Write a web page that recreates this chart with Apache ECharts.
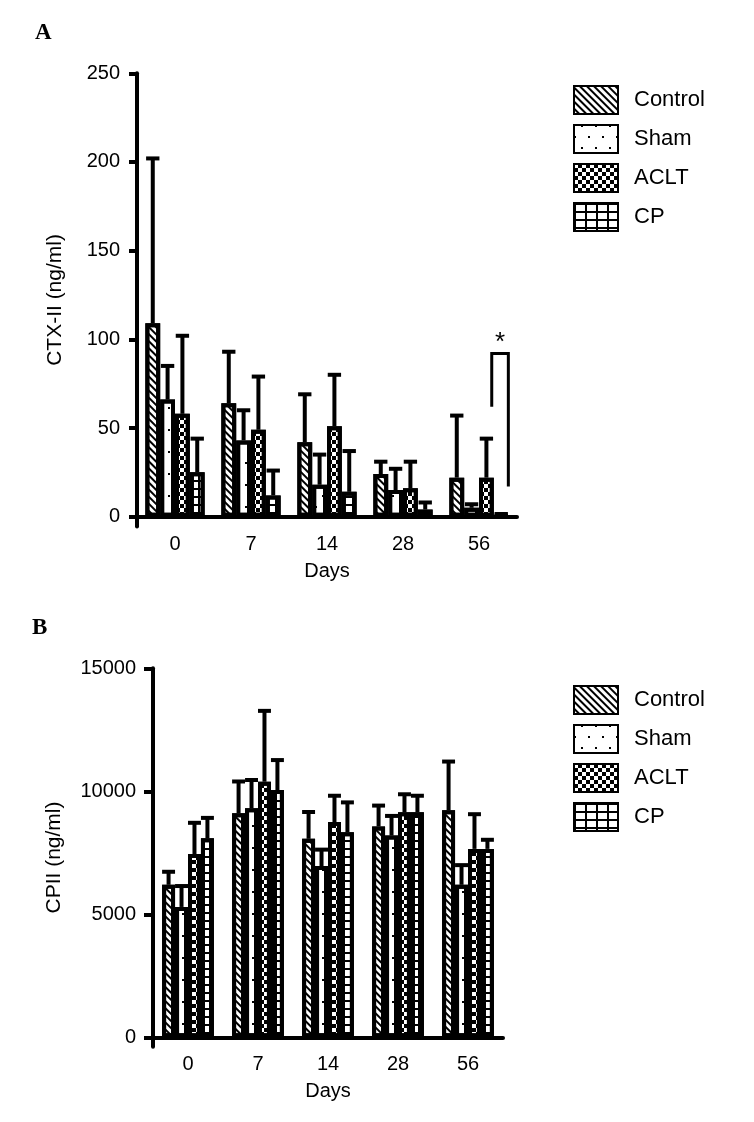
<!DOCTYPE html>
<html><head><meta charset="utf-8">
<script src="https://cdn.jsdelivr.net/npm/echarts@6/dist/echarts.min.js"></script>
<style>html,body{margin:0;padding:0;background:#fff}#c{width:754px;height:1122px}</style>
</head><body><div id="c"></div>
<script>
// ---------- data ----------
const days = ['0', '7', '14', '28', '56'];
const groups = ['Control', 'Sham', 'ACLT', 'CP'];
const ctxTicks = [0, 50, 100, 150, 200, 250];
const cpiiTicks = [0, 5000, 10000, 15000];

// Panel A: CTX-II (ng/ml) mean and upper end of error bar
const ctxControl = [109, 64, 42, 24, 22];
const ctxSham = [66, 43, 18, 15, 5];
const ctxAclt = [58, 49, 51, 16, 22];
const ctxCp = [25, 12, 14, 4, 1];
const ctxControlErr = [202, 93, 69, 31, 57];
const ctxShamErr = [85, 60, 35, 27, 7];
const ctxAcltErr = [102, 79, 80, 31, 44];
const ctxCpErr = [44, 26, 37, 8, 1.5];

// Panel B: CPII (ng/ml) mean and upper end of error bar
const cpiiControl = [6200, 9110, 8070, 8570, 9230];
const cpiiSham = [5300, 9310, 6960, 8200, 6200];
const cpiiAclt = [7450, 10390, 8750, 9150, 7660];
const cpiiCp = [8090, 10050, 8340, 9150, 7660];
const cpiiControlErr = [6730, 10400, 9160, 9420, 11210];
const cpiiShamErr = [6150, 10460, 7630, 9000, 7000];
const cpiiAcltErr = [8720, 13270, 9820, 9880, 9070];
const cpiiCpErr = [8920, 11270, 9550, 9820, 8030];

// significance bracket on day 56 (ACLT vs CP): top level, left end, right end
const sigDay = '56';
const sigLevels = [92, 62, 17];
const sigLabel = '*';

// ---------- styling ----------
const F = 'Liberation Sans, Arial, sans-serif';
const GAP_A = 0.22, GAP_B = 0.26;
const LW = 4;
const decals = [
  {symbol: 'rect', symbolSize: 1, symbolKeepAspect: false, color: '#000', dashArrayX: [1, 0], dashArrayY: [1.6, 2.8], rotation: Math.PI / 4},
  {symbol: 'rect', symbolSize: 1, symbolKeepAspect: false, color: '#000', dashArrayX: [[2, 12], [0, 7, 2, 5]], dashArrayY: [2, 9]},
  {symbol: 'rect', symbolSize: 1, symbolKeepAspect: false, color: '#000', dashArrayX: [[4, 4], [0, 4, 4, 0]], dashArrayY: [4, 0]},
  {symbol: 'rect', symbolSize: 1, symbolKeepAspect: false, color: '#000', dashArrayX: [[1, 0], [2, 9]], dashArrayY: [2, 0, 6, 0]}
];

const meansA = [ctxControl, ctxSham, ctxAclt, ctxCp];
const errsA = [ctxControlErr, ctxShamErr, ctxAcltErr, ctxCpErr];
const meansB = [cpiiControl, cpiiSham, cpiiAclt, cpiiCp];
const errsB = [cpiiControlErr, cpiiShamErr, cpiiAcltErr, cpiiCpErr];

function errData(means, errs) {
  const out = [];
  means.forEach((m, g) => m.forEach((v, c) => out.push([c, g, v, errs[g][c]])));
  return out;
}
function errRender(gap, capRatio) {
  return function (params, api) {
    const cat = api.value(0), g = api.value(1);
    const base = api.coord([cat, api.value(2)]);
    const top = api.coord([cat, api.value(3)]);
    const band = api.size([1, 0])[0];
    const bw = band * (1 - gap) / 4;
    const x = base[0] + (g - 1.5) * bw;
    const half = bw * capRatio / 2;
    const st = {stroke: '#000', lineWidth: LW, fill: null};
    return {type: 'group', children: [
      {type: 'line', shape: {x1: x, y1: base[1], x2: x, y2: top[1]}, style: st},
      {type: 'line', shape: {x1: x - half, y1: top[1], x2: x + half, y2: top[1]}, style: st}
    ]};
  };
}
function sigRender(params, api) {
  const cat = api.value(0);
  const pTop = api.coord([cat, api.value(1)]);
  const pL = api.coord([cat, api.value(2)]);
  const pR = api.coord([cat, api.value(3)]);
  const band = api.size([1, 0])[0];
  const bw = band * (1 - GAP_A) / 4;
  const xL = pTop[0] + 0.86 * bw, xR = pTop[0] + 1.98 * bw;
  return {type: 'group', children: [
    {type: 'polyline', shape: {points: [[xL, pL[1]], [xL, pTop[1]], [xR, pTop[1]], [xR, pR[1]]]},
     style: {stroke: '#000', lineWidth: 3, fill: null}},
    {type: 'text', x: (xL + xR) / 2, y: pTop[1] + 2,
     style: {text: sigLabel, fill: '#000', font: '26px ' + F, align: 'center', verticalAlign: 'bottom'}}
  ]};
}

function yAxisOpt(idx, name, min, max, ticks, nameGap, tickLen) {
  return {
    type: 'value', gridIndex: idx, min: min, max: max, name: name,
    nameLocation: 'middle', nameGap: nameGap,
    nameTextStyle: {fontFamily: F, fontSize: 21, color: '#000'},
    axisLine: {show: true, lineStyle: {color: '#000', width: 4}},
    axisTick: {show: true, length: tickLen, lineStyle: {color: '#000', width: 4}, customValues: ticks},
    axisLabel: {fontFamily: F, fontSize: 20, color: '#000', margin: 17, customValues: ticks,
      formatter: v => String(v)},
    splitLine: {show: false}
  };
}
function xAxisOpt(idx) {
  return {
    type: 'category', gridIndex: idx, data: days, name: 'Days',
    nameLocation: 'middle', nameGap: 35,
    nameTextStyle: {fontFamily: F, fontSize: 20, color: '#000'},
    axisLine: {show: true, onZero: true, lineStyle: {color: '#000', width: 4}},
    axisTick: {show: false},
    axisLabel: {fontFamily: F, fontSize: 20, color: '#000', margin: 8}
  };
}

const series = [];
[[meansA, GAP_A, 0], [meansB, GAP_B, 1]].forEach(([means, gap, p]) => {
  groups.forEach((name, g) => {
    series.push({
      name: name, type: 'bar', xAxisIndex: p, yAxisIndex: p, data: means[g],
      barGap: '0%', barCategoryGap: (gap * 100) + '%',
      itemStyle: {color: '#fff', borderColor: '#000', borderWidth: LW, decal: decals[g]}
    });
  });
});
series.push({type: 'custom', xAxisIndex: 0, yAxisIndex: 0, z: 3, renderItem: errRender(GAP_A, 0.9),
  data: errData(meansA, errsA), encode: {x: 0, y: 3}});
series.push({type: 'custom', xAxisIndex: 1, yAxisIndex: 1, z: 3, renderItem: errRender(GAP_B, 1.0),
  data: errData(meansB, errsB), encode: {x: 0, y: 3}});
series.push({type: 'custom', xAxisIndex: 0, yAxisIndex: 0, z: 4, renderItem: sigRender,
  data: [[days.indexOf(sigDay), sigLevels[0], sigLevels[1], sigLevels[2]]], encode: {x: 0, y: 1}});

const legendBase = {
  orient: 'vertical', left: 573, itemWidth: 44, itemHeight: 28, itemGap: 9, icon: 'rect',
  selectedMode: false, padding: 0, data: groups,
  itemStyle: {borderWidth: 2, borderColor: '#000'},
  textStyle: {fontFamily: F, fontSize: 22, color: '#000', padding: [0, 0, 0, 11]}
};

const chart = echarts.init(document.getElementById('c'), null, {renderer: 'canvas'});
chart.setOption({
  animation: false,
  backgroundColor: '#fff',
  title: [
    {text: 'A', left: 35, top: 22, padding: 0, textStyle: {fontFamily: 'Liberation Serif', fontWeight: 'bold', fontSize: 23, color: '#000'}},
    {text: 'B', left: 32, top: 617, padding: 0, textStyle: {fontFamily: 'Liberation Serif', fontWeight: 'bold', fontSize: 23, color: '#000'}}
  ],
  legend: [
    Object.assign({}, legendBase, {top: 85}),
    Object.assign({}, legendBase, {top: 685})
  ],
  grid: [
    {left: 137, top: 73.3, width: 380, height: 453.3},
    {left: 153, top: 668.3, width: 350, height: 378.4}
  ],
  xAxis: [xAxisOpt(0), xAxisOpt(1)],
  yAxis: [
    yAxisOpt(0, 'CTX-II (ng/ml)', -5.6, 250, ctxTicks, 71, 8),
    yAxisOpt(1, 'CPII (ng/ml)', -380, 15000, cpiiTicks, 88, 9)
  ],
  series: series
});
</script></body></html>
